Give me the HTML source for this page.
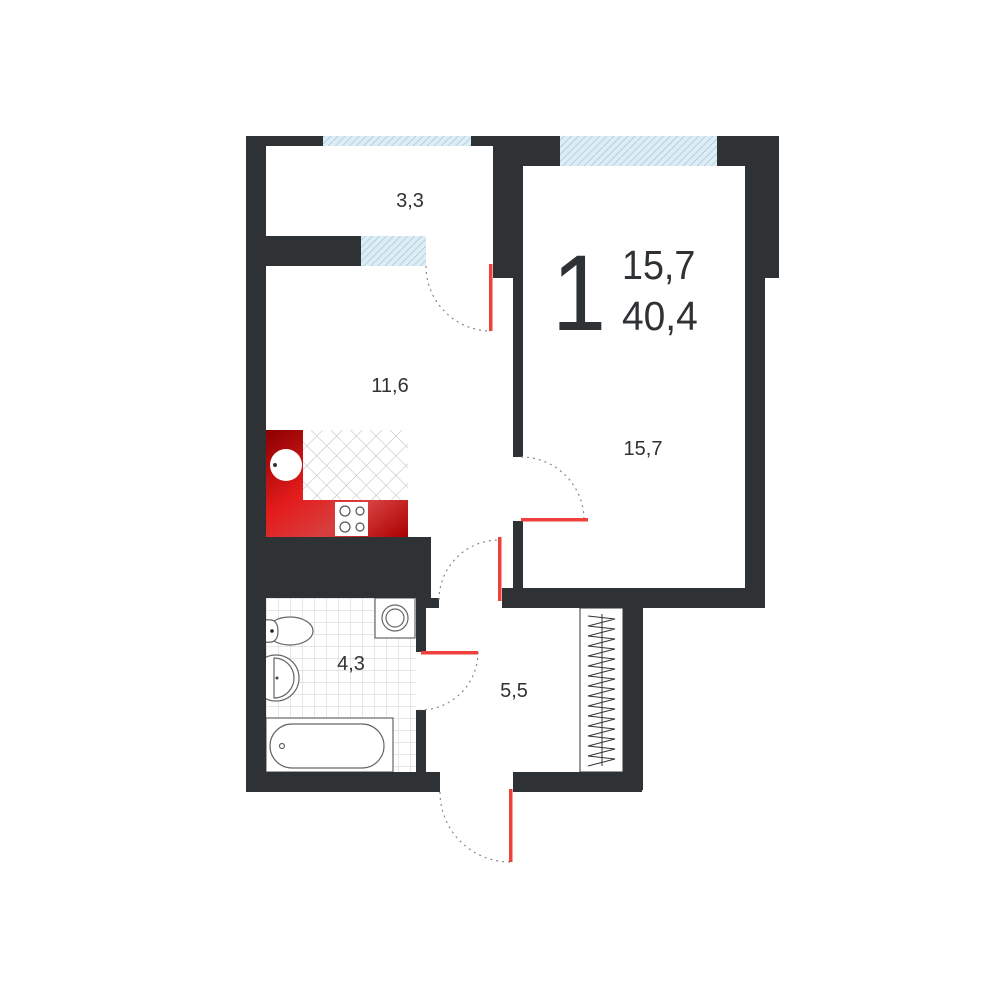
<!DOCTYPE html>
<html><head><style>
html,body{margin:0;padding:0;background:#fff}
svg{display:block}
text{font-family:"Liberation Sans","DejaVu Sans",sans-serif;fill:#2f3235}
</style></head><body>
<svg width="1000" height="1000" viewBox="0 0 1000 1000" xmlns="http://www.w3.org/2000/svg">
<defs>
<pattern id="h" width="5" height="5" patternUnits="userSpaceOnUse" patternTransform="rotate(45)">
<rect width="5" height="5" fill="#dcedf5"/><line x1="0" y1="0" x2="0" y2="5" stroke="#8fb7cc" stroke-width="1"/>
</pattern>
<pattern id="x" width="14" height="14" patternUnits="userSpaceOnUse" patternTransform="rotate(45)">
<rect width="14" height="14" fill="#fff"/><path d="M0 0H14M0 0V14" stroke="#bbb" stroke-width="1"/>
</pattern>
<pattern id="g" width="12" height="12" patternUnits="userSpaceOnUse" x="266" y="598">
<rect width="12" height="12" fill="#fff"/><path d="M0 0H12M0 0V12" stroke="#ddd" stroke-width="1.5"/>
</pattern>
<linearGradient id="r" x1="0" y1="0" x2="1" y2="1">
<stop offset="0" stop-color="#8a0000"/><stop offset="0.4" stop-color="#e31b1b"/><stop offset="0.7" stop-color="#d84040"/><stop offset="1" stop-color="#a00"/>
</linearGradient>
</defs>
<!-- kitchen -->
<rect x="303" y="430" width="105" height="70" fill="url(#x)"/>
<path d="M266 430H303V500H408V537H266Z" fill="url(#r)"/>
<circle cx="286" cy="465" r="16" fill="#fff"/>
<circle cx="275" cy="465" r="2" fill="#333"/>
<rect x="335" y="502" width="33" height="34" fill="#fff"/>
<g fill="none" stroke="#555" stroke-width="1.2">
<circle cx="345" cy="511" r="5"/><circle cx="360" cy="511" r="4"/><circle cx="345" cy="527" r="5"/><circle cx="360" cy="527" r="4"/>
</g>
<!-- bathroom -->
<rect x="266" y="598" width="150" height="174" fill="url(#g)"/>
<g fill="#fff" stroke="#666" stroke-width="1.2">
<rect x="375" y="598" width="40" height="40"/>
<circle cx="395" cy="618" r="13"/><circle cx="395" cy="618" r="9"/>
<ellipse cx="290" cy="631" rx="23" ry="14"/>
<path d="M266 620Q278 618 278 631Q278 644 266 642" />
<circle cx="276" cy="678" r="23"/>
<path d="M274 658A20 20 0 0 1 274 698Z"/>
<rect x="266" y="718" width="127" height="54"/>
<rect x="270" y="724" width="114" height="44" rx="22"/>
<circle cx="282" cy="746" r="2.5"/>
</g>
<circle cx="272" cy="631" r="1.8" fill="#222"/><circle cx="277" cy="678" r="1.5" fill="#444"/>
<g fill="#2f3235">
<rect x="246" y="136" width="20" height="656"/>
<rect x="246" y="136" width="77" height="10"/>
<rect x="471" y="136" width="42" height="10"/>
<rect x="493" y="136" width="67" height="30"/>
<rect x="493" y="136" width="20" height="142"/>
<rect x="513" y="166" width="10" height="291"/>
<rect x="513" y="521" width="10" height="77"/>
<rect x="717" y="136" width="62" height="30"/>
<rect x="745" y="136" width="34" height="142"/>
<rect x="745" y="136" width="20" height="472"/>
<rect x="502" y="588" width="263" height="20"/>
<rect x="623" y="600" width="20" height="190"/>
<rect x="513" y="772" width="129" height="20"/>
<rect x="266" y="236" width="95" height="30"/>
<rect x="246" y="537" width="185" height="61"/>
<rect x="416" y="598" width="23" height="10"/>
<rect x="416" y="598" width="10" height="54"/>
<rect x="416" y="710" width="10" height="62"/>
<rect x="246" y="772" width="194" height="20"/>
</g>
<rect x="323" y="136" width="148" height="10" fill="url(#h)"/>
<rect x="560" y="136" width="157" height="30" fill="url(#h)"/>
<rect x="361" y="236" width="65" height="30" fill="url(#h)"/>
<!-- closet -->
<rect x="580" y="608" width="43" height="164" fill="#fff" stroke="#333" stroke-width="1"/>
<line x1="602" y1="614" x2="602" y2="766" stroke="#333"/>
<path d="M588 616L615 619L588 626L615 629L588 636L615 639L588 646L615 649L588 656L615 659L588 666L615 669L588 676L615 679L588 686L615 689L588 696L615 699L588 706L615 709L588 716L615 719L588 726L615 729L588 736L615 739L588 746L615 749L588 756L615 759L588 766" fill="none" stroke="#333" stroke-width="1"/>
<!-- doors -->
<g fill="none" stroke="#888" stroke-width="1.2" stroke-dasharray="2 4">
<path d="M426 266A65 65 0 0 0 491 331"/>
<path d="M521 457A63 63 0 0 1 584 520"/>
<path d="M439 600A60 60 0 0 1 499 540"/>
<path d="M478 652A58 58 0 0 1 420 710"/>
<path d="M440 792A70 70 0 0 0 510 862"/>
</g>
<g fill="#f0403c">
<rect x="489" y="264" width="3.5" height="67"/>
<rect x="521" y="518" width="67" height="3.5"/>
<rect x="498" y="537" width="3.5" height="64"/>
<rect x="421" y="651" width="57" height="3.5"/>
<rect x="509" y="789" width="3.5" height="73"/>
</g>
<text x="552" y="330" font-size="108" transform="translate(552 0) scale(0.9 1) translate(-552 0)">1</text>
<text x="622" y="279" font-size="41" transform="translate(622 0) scale(0.92 1) translate(-622 0)">15,7</text>
<text x="622" y="330" font-size="41" transform="translate(622 0) scale(0.95 1) translate(-622 0)">40,4</text>
<text x="410" y="207" font-size="20" text-anchor="middle">3,3</text>
<text x="390" y="392" font-size="20" text-anchor="middle">11,6</text>
<text x="643" y="455" font-size="20" text-anchor="middle">15,7</text>
<text x="351" y="670" font-size="20" text-anchor="middle">4,3</text>
<text x="514" y="697" font-size="20" text-anchor="middle">5,5</text>
</svg>
</body></html>
